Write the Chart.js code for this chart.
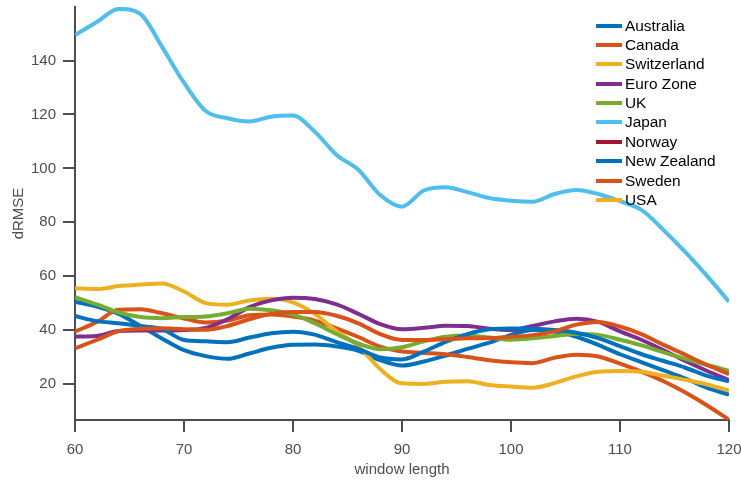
<!DOCTYPE html>
<html>
<head>
<meta charset="utf-8">
<script src="https://cdn.jsdelivr.net/npm/chart.js@4.4.1/dist/chart.umd.min.js"></script>
<style>
  body { margin: 0; background: #fff; }
  #wrap { position: relative; width: 741px; height: 483px; }
  #legend {
    position: absolute; left: 596px; top: 16px;
    font-family: "Liberation Sans", Arial, Helvetica, sans-serif;
    font-size: 15.4px; color: #000;
  }
  .row { display: flex; align-items: center; height: 19.37px; }
  .swatch { width: 26px; height: 4px; margin-right: 3px; }
</style>
</head>
<body>
<div id="wrap">
  <canvas id="rmseChart" width="741" height="483"></canvas>
  <div id="legend"></div>
</div>
<script>
const windows = [60, 62, 64, 66, 68, 70, 72, 74, 76, 78, 80, 82, 84, 86, 88, 90,
                 92, 94, 96, 98, 100, 102, 104, 106, 108, 110, 112, 114, 116, 118, 120];

const countries = ["Australia", "Canada", "Switzerland", "Euro Zone", "UK",
                   "Japan", "Norway", "New Zealand", "Sweden", "USA"];

const australia = [50.5, 48.7, 46, 41.5, 36.8, 32.5, 30.3, 29.3, 31.3, 33.4, 34.5, 34.6, 33.9, 32.3, 28.8, 26.8,
                   28.3, 30.5, 33, 35.3, 38.2, 40, 39.4, 37.5, 34.5, 31, 28, 25, 22, 18.5, 16];
const canada = [39.4, 43, 47.5, 47.7, 46.2, 44.3, 42.8, 43.5, 45.5, 45.8, 45, 43.5, 40.6, 37.4, 33.8, 32,
                31.5, 31, 30, 28.8, 28, 27.7, 29.7, 30.8, 30.2, 27.5, 24.5, 21, 16.8, 12, 6.7];
const switzerland = [55.5, 55.2, 56.3, 56.9, 57.3, 54.3, 50, 49.4, 51, 51.6, 50.3, 46, 39.5, 34, 25.5, 20.2,
                     20, 20.8, 21, 19.6, 19, 18.6, 20.3, 22.8, 24.5, 24.8, 24.5, 23, 21.5, 19.8, 17.5];
const euroZone = [37.6, 37.8, 39.6, 39.8, 39.8, 40, 40.8, 44, 48.5, 51, 52, 51.5, 49.5, 46, 42.2, 40.3,
                  40.8, 41.6, 41.5, 40.5, 40, 41.5, 43.2, 44.2, 43, 39.5, 36.3, 32.5, 28.5, 24.8, 21.4];
const uk = [52.2, 49.5, 46.5, 44.8, 44.4, 44.8, 45, 46.2, 47.9, 47.3, 45.8, 42.5, 38.5, 35, 32.9, 33.6,
            35.8, 37.5, 38, 37.2, 36.4, 36.9, 37.8, 38.5, 38.2, 36.4, 34.3, 31.7, 29.3, 27, 24.9];
const japan = [149.5, 154.3, 159.2, 157.3, 145, 131.8, 121.3, 118.6, 117.4, 119.2, 119.6, 113.6, 105, 99.5, 90.1, 85.8,
               91.8, 93, 91.2, 89, 88, 87.6, 90.5, 92, 90.5, 87.8, 84.5, 77.1, 68.9, 60, 50.5];
const norway = [];
const newZealand = [45.2, 43.3, 42.5, 41.5, 40.3, 36.3, 35.8, 35.5, 37.2, 38.8, 39.4, 38.3, 35.5, 33, 29.8, 29.1,
                    32, 35.6, 38.5, 40.3, 40.6, 40.5, 40, 39, 37, 34, 31, 28.5, 26, 23, 21];
const sweden = [33.2, 36.3, 39.6, 40.5, 40.7, 40.3, 40.1, 41.5, 44, 46, 46.7, 46.7, 45.3, 42.5, 38.5, 36.3,
                36.3, 36.6, 36.9, 37, 37.5, 38.1, 39.5, 42, 43, 41.3, 38.4, 34.5, 30.8, 27, 23.6];
const usa = [];

const series = [australia, canada, switzerland, euroZone, uk, japan, norway, newZealand, sweden, usa];

const xTicks = [60, 70, 80, 90, 100, 110, 120];
const yTicks = [20, 40, 60, 80, 100, 120, 140];

const colors = ["#0072BD", "#D95319", "#EDB120", "#7E2F8E", "#77AC30",
                "#4DBEEE", "#A2142F", "#0072BD", "#D95319", "#EDB120"];

const axisColor = "#4d4d4d";
const fontFamily = '"Liberation Sans", Arial, Helvetica, sans-serif';

const datasets = countries.map((name, i) => ({
  label: name,
  data: series[i].map((v, k) => ({ x: windows[k], y: v })),
  borderColor: colors[i],
  backgroundColor: colors[i],
  borderWidth: 4,
  pointRadius: 0,
  cubicInterpolationMode: "monotone",
  borderJoinStyle: "round",
  fill: false,
  order: -i
}));

// fixed axis box sizes so the plot area sits where the matlab axes are
function fixBox(w, h) {
  return (scale) => {
    if (w !== null) scale.width = w;
    if (h !== null) scale.height = h;
    scale.paddingLeft = 0;
    scale.paddingRight = 0;
    scale.paddingTop = 0;
    scale.paddingBottom = 0;
  };
}

const ctx = document.getElementById("rmseChart").getContext("2d");

new Chart(ctx, {
  type: "line",
  data: { datasets: datasets },
  options: {
    responsive: false,
    animation: false,
    layout: { padding: { top: 7, right: 12, left: 0, bottom: 0 } },
    plugins: {
      legend: { display: false },
      tooltip: { enabled: false }
    },
    scales: {
      x: {
        type: "linear",
        min: 60,
        max: 120,
        afterFit: fixBox(null, 63),
        afterBuildTicks: (scale) => { scale.ticks = xTicks.map(v => ({ value: v })); },
        border: { color: axisColor, width: 2 },
        grid: { drawOnChartArea: false, drawTicks: true, tickLength: 12, color: axisColor, lineWidth: 2 },
        ticks: { color: axisColor, padding: 9, font: { family: fontFamily, size: 15 }, maxRotation: 0 },
        title: { display: true, text: "window length", color: axisColor,
                 font: { family: fontFamily, size: 15 }, padding: { top: 0, bottom: 4 } }
      },
      y: {
        min: 6.6,
        max: 159.9,
        afterFit: fixBox(75, null),
        afterBuildTicks: (scale) => { scale.ticks = yTicks.map(v => ({ value: v })); },
        border: { color: axisColor, width: 2 },
        grid: { drawOnChartArea: false, drawTicks: true, tickLength: 12, color: axisColor, lineWidth: 2 },
        ticks: { color: axisColor, padding: 7, font: { family: fontFamily, size: 15 } },
        title: { display: true, text: "dRMSE", color: axisColor,
                 font: { family: fontFamily, size: 15 }, padding: { top: 10, bottom: 0 } }
      }
    }
  }
});

// legend drawn as html on top of the plot, like the matlab one
const legendEl = document.getElementById("legend");
countries.forEach((name, i) => {
  const row = document.createElement("div");
  row.className = "row";
  const sw = document.createElement("span");
  sw.className = "swatch";
  sw.style.background = colors[i];
  const txt = document.createElement("span");
  txt.textContent = name;
  row.appendChild(sw);
  row.appendChild(txt);
  legendEl.appendChild(row);
});
</script>
</body>
</html>
